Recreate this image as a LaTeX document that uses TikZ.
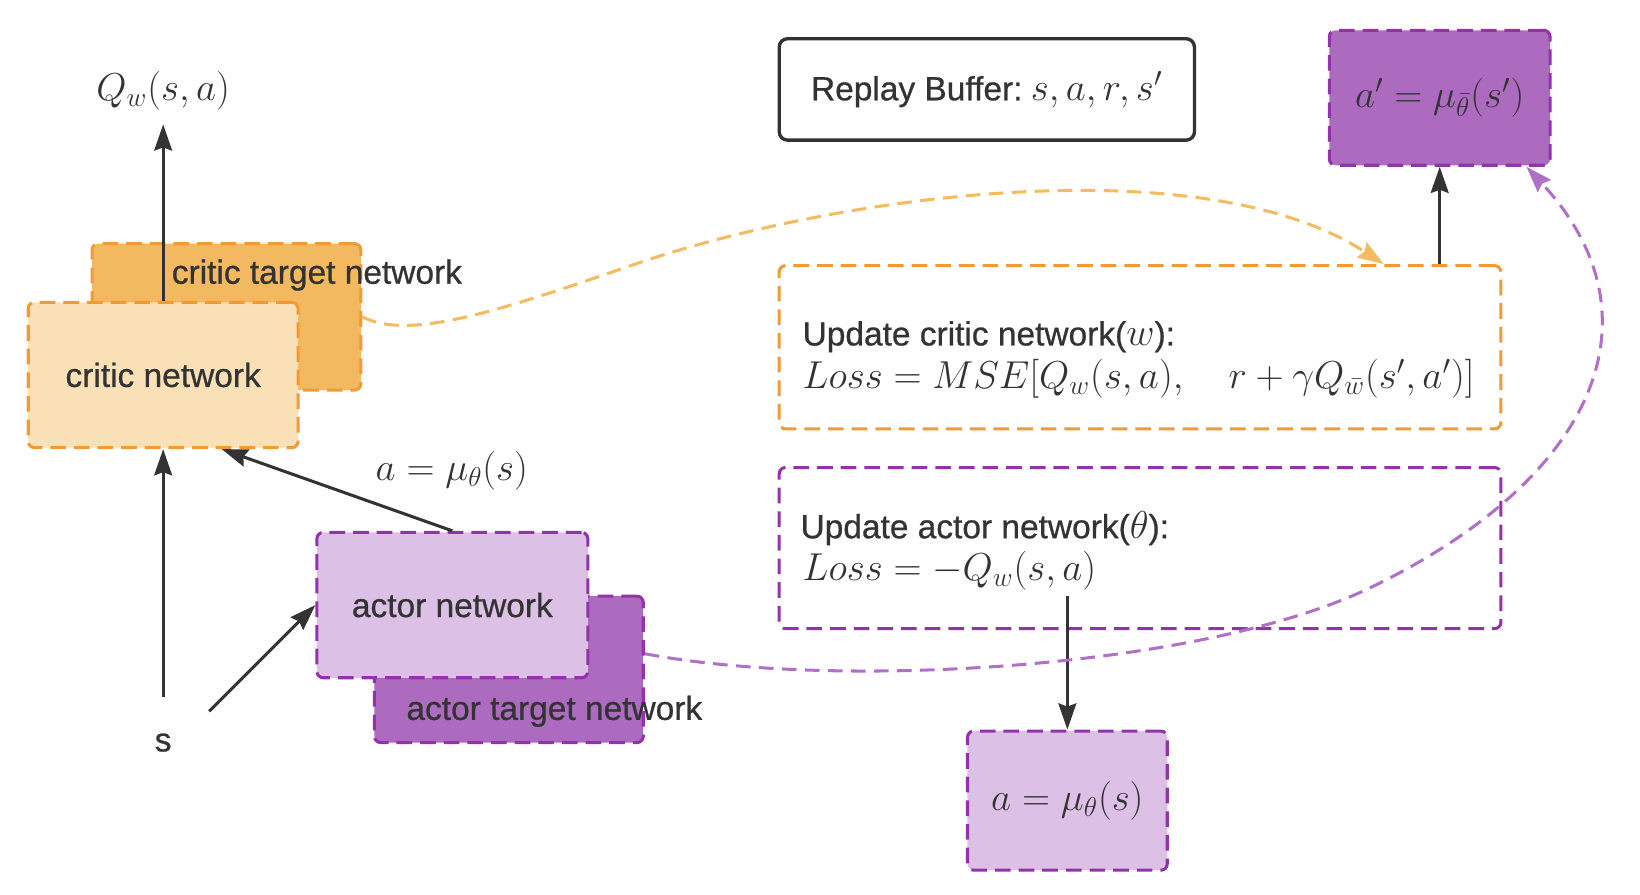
\RequirePackage{fix-cm}
\documentclass[tikz,border=0pt]{standalone}
\usepackage[no-math]{fontspec}
\setmainfont{Liberation Sans}[FakeBold=0.7]
\usetikzlibrary{arrows.meta,calc}
\definecolor{ink}{HTML}{333333}
\definecolor{obord}{HTML}{F09B36}
\definecolor{ofill}{HTML}{F3B960}
\definecolor{olight}{HTML}{FAE0B6}
\definecolor{ocurve}{HTML}{F5BB60}
\definecolor{pbord}{HTML}{9233AB}
\definecolor{pfill}{HTML}{AD6BC0}
\definecolor{plight}{HTML}{DCC0E5}
\definecolor{pcurve}{HTML}{B070C8}
\newcommand{\mth}[1]{{\fontsize{18.6}{21}\selectfont$#1$}}
\begin{document}
\begin{tikzpicture}[x=0.5pt,y=-0.5pt,
  txt/.style={text=ink, font=\fontsize{16}{19}\selectfont, inner sep=0pt},
  box/.style={draw, line width=1.45pt, dash pattern=on 7.5pt off 3.8pt, rounded corners=3pt, inner sep=0pt, txt},
  obox/.style={box, draw=obord},
  pbox/.style={box, draw=pbord},
  tip/.style={-{Stealth[length=12.5pt,width=8.5pt,inset=1.5pt]}},
  arr/.style={draw=ink, line width=1.45pt, tip},
  curve/.style={line width=1.45pt, dash pattern=on 7pt off 4pt, tip},
]
\useasboundingbox (0,0) rectangle (1568,855);

% left group
\node[obox, fill=ofill, minimum width=128.5pt, minimum height=70pt] (ctgt) at (216.5,303) {};
\node[obox, fill=olight, minimum width=129pt, minimum height=69.5pt] (critic) at (156,358.5) {critic network};
\node[pbox, fill=pfill, minimum width=128.5pt, minimum height=70pt] (atgt) at (486.5,640) {};
\node[pbox, fill=plight, minimum width=129.5pt, minimum height=69.5pt] (actor) at (432.5,578.5) {actor network};

\node[txt] (qlab) at (156,87) {\mth{Q_w(s,a)}};
\node[txt] (slab) at (156,710) {s};
\node[txt] (alab) at (432,450) {\mth{a=\mu_\theta(s)}};
\coordinate (s2) at (200,680);

\draw[arr] (critic.north) -- ([yshift=-6.5pt]qlab.south);
\draw[arr] ([yshift=17pt]slab.north) -- (critic.south);
\draw[arr] (s2) -- (actor.west);
\draw[arr] (actor.north) -- ([xshift=28pt]critic.south);

\node[txt] (ctgtl) at (303,263) {critic target network};
\node[txt] (atgtl) at (530,680) {actor target network};

% right group
\node[box, draw=ink, solid, line width=1.6pt, rounded corners=4pt, fill=white, minimum width=198.5pt, minimum height=48.5pt] (replay) at (943.5,85.5) {Replay Buffer:\hspace{4pt}\mth{s,a,r,s'}};
\node[pbox, fill=pfill, minimum width=105.5pt, minimum height=64.5pt] (aprime) at (1376.5,93.5) {\mth{a'=\mu_{\bar\theta}(s')}};

\node[obox, fill=white, minimum width=345pt, minimum height=78pt] (upc) at (1090,332) {};
\node[txt, anchor=west] (upct) at (767,322) {Update critic network(\mth{w}):};
\node[txt, anchor=west] (lossc) at (767,362) {\mth{Loss = MSE[Q_w(s,a),\quad r+\gamma Q_{\bar w}(s',a')]}};

\node[pbox, fill=white, minimum width=345pt, minimum height=77pt] (upa) at (1090,524) {};
\node[txt, anchor=west] (upat) at (765,505) {Update actor network(\mth{\theta}):};
\node[txt, anchor=west] (lossa) at (767,546) {\mth{Loss = -Q_w(s,a)}};

\node[pbox, fill=plight, minimum width=95.5pt, minimum height=66.5pt] (abot) at (1020.5,765.5) {\mth{a=\mu_\theta(s)}};

\draw[arr] (upc.north -| aprime.south) -- (aprime.south);
\draw[arr] ($(lossa.south -| abot.north)+(0,5)$) -- (abot.north);

% curves
\draw[curve, draw=ocurve] (ctgt.east) .. controls (390,325) and (470,300) .. (600,255)
  .. controls (800,185) and (1150,140) .. ([xshift=116.5pt]upc.north);
\draw[curve, draw=pcurve] ([yshift=7.5pt]atgt.east) .. controls (800,660) and (1150,640) .. (1312,561)
  .. controls (1530,455) and (1590,300) .. ([xshift=-12pt]aprime.south east);
\end{tikzpicture}
\end{document}
